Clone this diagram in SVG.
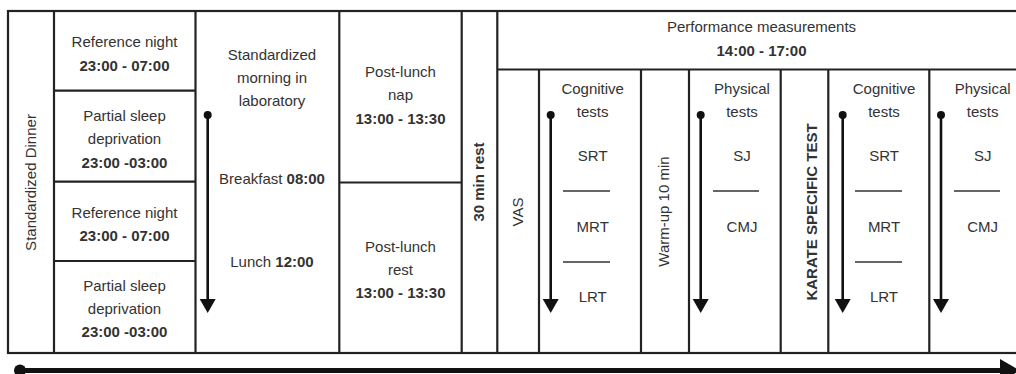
<svg xmlns="http://www.w3.org/2000/svg" width="1016" height="374" viewBox="0 0 1016 374">
<style>
.b{fill:none;stroke:#222;stroke-width:2.2}
.t{font-family:"Liberation Sans",Arial,sans-serif;font-size:15px;fill:#333;text-anchor:middle}
.bd{font-weight:bold}
.sep{stroke:#333;stroke-width:1.5}
.ar{stroke:#111;stroke-width:2.6;fill:none}
.hd{fill:#111}
</style>
<rect width="1016" height="374" fill="#fff"/>
<g id="frame">
<rect class="b" x="8" y="11" width="1020" height="342"/>
</g>
<g id="dinner">
<line class="b" x1="54" y1="11" x2="54" y2="353"/>
<text class="t" transform="translate(36,182.5) rotate(-90)">Standardized Dinner</text>
</g>
<g id="nights">
<line class="b" x1="195.5" y1="11" x2="195.5" y2="353"/>
<line class="b" x1="54" y1="90.7" x2="195.5" y2="90.7"/>
<line class="b" x1="54" y1="181.7" x2="195.5" y2="181.7"/>
<line class="b" x1="54" y1="261" x2="195.5" y2="261"/>
<text class="t" x="124.5" y="47">Reference night</text>
<text class="t bd" x="124.5" y="70.5">23:00 - 07:00</text>
<text class="t" x="124.5" y="121">Partial sleep</text>
<text class="t" x="124.5" y="144">deprivation</text>
<text class="t bd" x="124.5" y="167.5">23:00 -03:00</text>
<text class="t" x="124.5" y="218">Reference night</text>
<text class="t bd" x="124.5" y="241">23:00 - 07:00</text>
<text class="t" x="124.5" y="291">Partial sleep</text>
<text class="t" x="124.5" y="313.5">deprivation</text>
<text class="t bd" x="124.5" y="336.5">23:00 -03:00</text>
</g>
<g id="morning">
<line class="b" x1="339.3" y1="11" x2="339.3" y2="353"/>
<text class="t" x="272" y="60">Standardized</text>
<text class="t" x="272" y="83">morning in</text>
<text class="t" x="272" y="106">laboratory</text>
<text class="t" x="272" y="184">Breakfast <tspan class="bd">08:00</tspan></text>
<text class="t" x="272" y="267">Lunch <tspan class="bd">12:00</tspan></text>
</g>
<g id="afternoon">
<line class="b" x1="461.7" y1="11" x2="461.7" y2="353"/>
<line class="b" x1="339.3" y1="182.5" x2="461.7" y2="182.5"/>
<text class="t" x="400.5" y="77">Post-lunch</text>
<text class="t" x="400.5" y="100">nap</text>
<text class="t bd" x="400.5" y="124">13:00 - 13:30</text>
<text class="t" x="400.5" y="252">Post-lunch</text>
<text class="t" x="400.5" y="275">rest</text>
<text class="t bd" x="400.5" y="298">13:00 - 13:30</text>
</g>
<g id="rest">
<line class="b" x1="497.3" y1="11" x2="497.3" y2="353"/>
<text class="t bd" transform="translate(484,182) rotate(-90)">30 min rest</text>
</g>
<g id="performance">
<line class="b" x1="497.3" y1="69.5" x2="1028" y2="69.5"/>
<text class="t" x="761.5" y="32">Performance measurements</text>
<text class="t bd" x="761.5" y="56">14:00 - 17:00</text>
</g>
<g id="vas">
<line class="b" x1="539" y1="69.5" x2="539" y2="353"/>
<text class="t" transform="translate(523,212) rotate(-90)">VAS</text>
</g>
<g id="cognitive1">
<line class="b" x1="641" y1="69.5" x2="641" y2="353"/>
<text class="t" x="592.7" y="94">Cognitive</text>
<text class="t" x="592.7" y="117">tests</text>
<text class="t" x="592.7" y="161">SRT</text>
<line class="sep" x1="563" y1="191" x2="610" y2="191"/>
<text class="t" x="592.7" y="232">MRT</text>
<line class="sep" x1="563" y1="262" x2="610" y2="262"/>
<text class="t" x="592.7" y="302">LRT</text>
</g>
<g id="warmup">
<line class="b" x1="689" y1="69.5" x2="689" y2="353"/>
<text class="t" transform="translate(668.5,211.5) rotate(-90)">Warm-up 10 min</text>
</g>
<g id="physical1">
<line class="b" x1="780.7" y1="69.5" x2="780.7" y2="353"/>
<text class="t" x="742" y="94">Physical</text>
<text class="t" x="742" y="117">tests</text>
<text class="t" x="742" y="161">SJ</text>
<line class="sep" x1="713" y1="191" x2="759" y2="191"/>
<text class="t" x="742" y="232">CMJ</text>
</g>
<g id="karate">
<line class="b" x1="828.3" y1="69.5" x2="828.3" y2="353"/>
<text class="t bd" transform="translate(816.5,212) rotate(-90)">KARATE SPECIFIC TEST</text>
</g>
<g id="cognitive2">
<line class="b" x1="929.3" y1="69.5" x2="929.3" y2="353"/>
<text class="t" x="884" y="94">Cognitive</text>
<text class="t" x="884" y="117">tests</text>
<text class="t" x="884" y="161">SRT</text>
<line class="sep" x1="855" y1="191" x2="902" y2="191"/>
<text class="t" x="884" y="232">MRT</text>
<line class="sep" x1="855" y1="262" x2="902" y2="262"/>
<text class="t" x="884" y="302">LRT</text>
</g>
<g id="physical2">
<text class="t" x="982.7" y="94">Physical</text>
<text class="t" x="982.7" y="117">tests</text>
<text class="t" x="982.7" y="161">SJ</text>
<line class="sep" x1="954" y1="191" x2="1000" y2="191"/>
<text class="t" x="982.7" y="232">CMJ</text>
</g>
<g id="connectors">
<circle class="hd" cx="207.7" cy="115" r="4"/>
<line class="ar" x1="207.7" y1="115" x2="207.7" y2="300"/>
<polygon class="hd" points="199.7,299 215.7,299 207.7,313"/>
<circle class="hd" cx="550.7" cy="115" r="4"/>
<line class="ar" x1="550.7" y1="115" x2="550.7" y2="300"/>
<polygon class="hd" points="542.7,299 558.7,299 550.7,313"/>
<circle class="hd" cx="700.7" cy="115" r="4"/>
<line class="ar" x1="700.7" y1="115" x2="700.7" y2="300"/>
<polygon class="hd" points="692.7,299 708.7,299 700.7,313"/>
<circle class="hd" cx="842.7" cy="115" r="4"/>
<line class="ar" x1="842.7" y1="115" x2="842.7" y2="300"/>
<polygon class="hd" points="834.7,299 850.7,299 842.7,313"/>
<circle class="hd" cx="941" cy="115" r="4"/>
<line class="ar" x1="941" y1="115" x2="941" y2="300"/>
<polygon class="hd" points="933,299 949,299 941,313"/>
<circle class="hd" cx="20" cy="370.5" r="6"/>
<line x1="20" y1="370.5" x2="1002" y2="370.5" stroke="#111" stroke-width="5"/>
<polygon class="hd" points="1000,359 1020,370.5 1000,382"/>
</g>
</svg>
